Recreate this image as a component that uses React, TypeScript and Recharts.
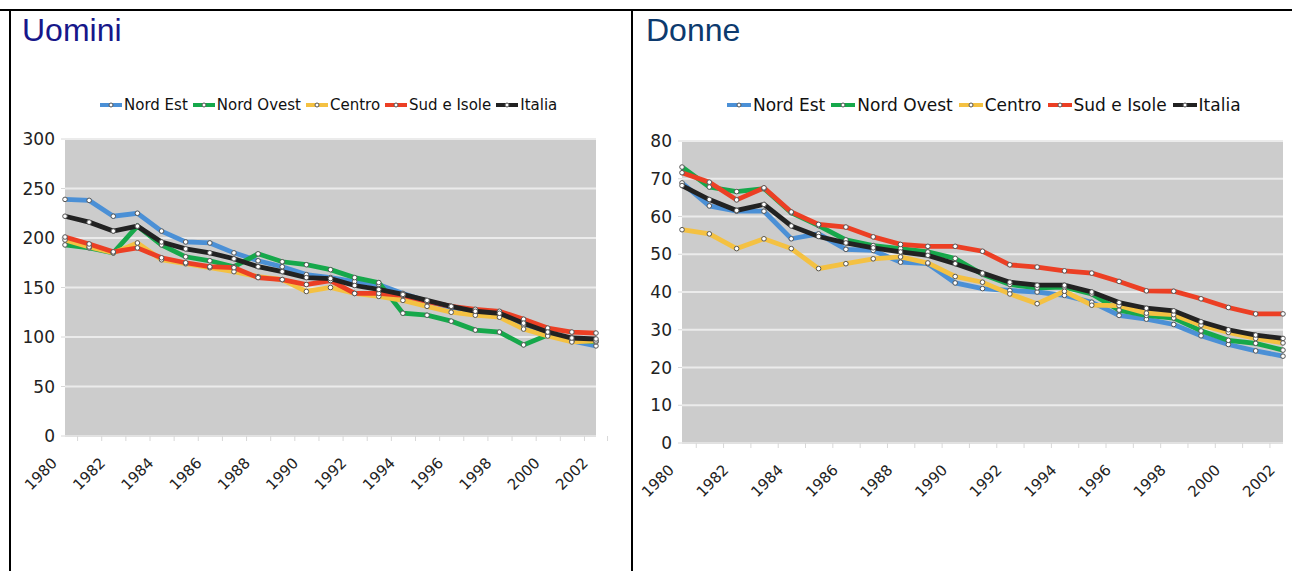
import React from "react";
import { LineChart, Line, XAxis, YAxis, CartesianGrid, Legend } from "recharts";

const years = ["1980", "1981", "1982", "1983", "1984", "1985", "1986", "1987", "1988", "1989", "1990", "1991",
  "1992", "1993", "1994", "1995", "1996", "1997", "1998", "1999", "2000", "2001", "2002"];

// Uomini
const uNordEst = [239, 238, 222, 225, 207, 196, 195, 185, 177, 171, 163, 160, 156, 153, 144, 136, 130, 126, 124, 112, 103, 96, 91];
const uNordOvest = [193, 190, 185, 212, 193, 181, 177, 171, 184, 176, 173, 168, 160, 155, 124, 122, 116, 107, 105, 92, 102, 97, 95];
const uCentro = [198, 191, 185, 195, 178, 174, 170, 166, 161, 158, 146, 150, 144, 141, 137, 131, 125, 122, 120, 108, 101, 95, 96];
const uSud = [201, 194, 186, 190, 180, 175, 171, 170, 160, 158, 153, 157, 144, 144, 142, 136, 131, 128, 126, 118, 109, 105, 104];
const uItalia = [222, 216, 207, 212, 196, 189, 185, 179, 171, 166, 160, 159, 152, 148, 143, 137, 131, 126, 124, 114, 105, 99, 98];

// Donne
const dNordEst = [68.9, 62.8, 61.4, 61.4, 54.1, 55.4, 51.3, 51, 47.9, 47.5, 42.4, 40.9, 40.4, 40, 39.1, 37.3, 33.8, 32.8, 31.4, 28.4, 26.1, 24.4, 23];
const dNordOvest = [73.1, 67.8, 66.6, 67.4, 61, 57.6, 53.8, 52.3, 51.5, 50.6, 48.9, 44.7, 42, 41.1, 41.3, 39.5, 35.2, 33.8, 33.1, 29.7, 27.2, 26.4, 24.6];
const dCentro = [56.5, 55.4, 51.5, 54.1, 51.5, 46.2, 47.5, 48.8, 49.3, 47.7, 44.1, 42.6, 39.5, 36.9, 40.2, 36.5, 36.4, 34.4, 34, 31.2, 29.3, 27.7, 26.5];
const dSud = [71.6, 69.1, 64.4, 67.6, 61.2, 57.9, 57.2, 54.6, 52.6, 52.1, 52.1, 50.8, 47.2, 46.6, 45.6, 45, 42.8, 40.3, 40.2, 38.2, 35.9, 34.2, 34.2];
const dItalia = [68.2, 64.5, 61.6, 63.2, 57.5, 54.7, 53, 51.7, 50.6, 49.7, 47.5, 45, 42.6, 41.8, 41.8, 40, 37.2, 35.7, 35, 32.1, 30, 28.6, 27.7];

const seriesNames = ["Nord Est", "Nord Ovest", "Centro", "Sud e Isole", "Italia"];
const seriesKeys = ["nordEst", "nordOvest", "centro", "sud", "italia"];
const seriesColors = ["#4b90d6", "#16a84b", "#f4c142", "#ec3f24", "#222222"];

const uTicks = [0, 50, 100, 150, 200, 250, 300];
const dTicks = [0, 10, 20, 30, 40, 50, 60, 70, 80];

const makeRows = (cols: number[][]) =>
  years.map((anno, i) => {
    const row: Record<string, string | number> = { anno };
    seriesKeys.forEach((k, j) => (row[k] = cols[j][i]));
    return row;
  });

const uomini = makeRows([uNordEst, uNordOvest, uCentro, uSud, uItalia]);
const donne = makeRows([dNordEst, dNordOvest, dCentro, dSud, dItalia]);

const AXIS_FONT = "'DejaVu Sans', Verdana, sans-serif";

function YearTick(props: any) {
  const { x, y, payload, index, band } = props;
  const i = typeof index === "number" ? index : years.indexOf(payload.value);
  const tx = x - 7;
  const ty = y + 28;
  return (
    <g>
      <line x1={x - band / 2} x2={x - band / 2} y1={y} y2={y + 5} stroke="#d8d8d8" />
      {i === years.length - 1 && <line x1={x + band / 2} x2={x + band / 2} y1={y} y2={y + 5} stroke="#d8d8d8" />}
      {i % 2 === 0 && (
        <text x={tx} y={ty} textAnchor="end" transform={`rotate(-45 ${tx} ${ty})`}
          fontFamily={AXIS_FONT} fontSize={15} fill="#222">
          {payload.value}
        </text>
      )}
    </g>
  );
}

function LegendRow({ payload, padLeft, fontSize, swatch, gap }: any) {
  const items = [...(payload || [])].sort(
    (a: any, b: any) => seriesNames.indexOf(a.value) - seriesNames.indexOf(b.value));
  return (
    <div style={{ display: "flex", alignItems: "center", paddingLeft: padLeft, height: 20,
      fontFamily: AXIS_FONT, fontSize, color: "#111", whiteSpace: "nowrap" }}>
      {items.map((p: any) => (
        <div key={p.value} style={{ display: "flex", alignItems: "center", marginRight: gap }}>
          <svg width={swatch} height={10} style={{ marginRight: 2 }}>
            <line x1={0} x2={swatch} y1={5} y2={5} stroke={p.color} strokeWidth={4} />
            <circle cx={swatch / 2} cy={5} r={2} fill="#fff" stroke="#555" strokeWidth={1} />
          </svg>
          <span>{p.value}</span>
        </div>
      ))}
    </div>
  );
}

function Panel({ rows, ticks, max, left, width, yWidth, margin, band, legendPad, legendFont, swatch, gap }: any) {
  return (
    <div style={{ position: "absolute", left, top: 85 }}>
      <LineChart width={width} height={470} data={rows} margin={margin}>
        <CartesianGrid vertical={false} fill="#cccccc" stroke="#ebebeb" strokeWidth={2} />
        <XAxis dataKey="anno" interval={0} tickLine={false} tickSize={0} tickMargin={0} height={60}
          axisLine={{ stroke: "#d8d8d8" }} tick={<YearTick band={band} />} />
        <YAxis domain={[0, max]} ticks={ticks} width={yWidth} tickSize={4} tickMargin={6}
          axisLine={false} tickLine={{ stroke: "#d8d8d8" }}
          tick={{ fontFamily: AXIS_FONT, fontSize: 17, fill: "#222" }} />
        <Legend layout="horizontal" verticalAlign="middle" align="center"
          wrapperStyle={{ top: 10, left: 0, width, height: 20 }}
          content={(p: any) => (
            <LegendRow payload={p.payload} padLeft={legendPad} fontSize={legendFont} swatch={swatch} gap={gap} />
          )} />
        {seriesKeys.map((k, j) => (
          <Line key={k} dataKey={k} name={seriesNames[j]} stroke={seriesColors[j]} strokeWidth={4.8}
            type="linear" isAnimationActive={false}
            dot={{ r: 2.3, fill: "#fff", stroke: "#555", strokeWidth: 1 }} activeDot={false} />
        ))}
      </LineChart>
    </div>
  );
}

export default function App() {
  const title: React.CSSProperties = { position: "absolute", top: 12, fontFamily: "'Liberation Sans', Arial, sans-serif",
    fontSize: 32, margin: 0, fontWeight: "normal", lineHeight: "36px" };
  return (
    <div style={{ position: "absolute", left: 0, top: 0, width: 1292, height: 571, overflow: "hidden" }}>
      <div style={{ position: "absolute", left: 0, top: 9, width: 1292, height: 2, background: "#000" }} />
      <div style={{ position: "absolute", left: 9, top: 9, width: 2, height: 562, background: "#000" }} />
      <div style={{ position: "absolute", left: 631, top: 9, width: 2, height: 562, background: "#000" }} />
      <div style={{ ...title, left: 22, color: "#17178a" }}>Uomini</div>
      <div style={{ ...title, left: 646, color: "#0c3a6e" }}>Donne</div>
      <Panel rows={uomini} ticks={uTicks} max={300} left={10} width={620} yWidth={45}
        margin={{ top: 54, right: 34, left: 10, bottom: 59 }} band={531 / 23}
        legendPad={90} legendFont={15} swatch={22} gap={5} />
      <Panel rows={donne} ticks={dTicks} max={80} left={633} width={657} yWidth={40}
        margin={{ top: 56, right: 7, left: 9, bottom: 52 }} band={601 / 23}
        legendPad={94} legendFont={17} swatch={24} gap={6} />
    </div>
  );
}
